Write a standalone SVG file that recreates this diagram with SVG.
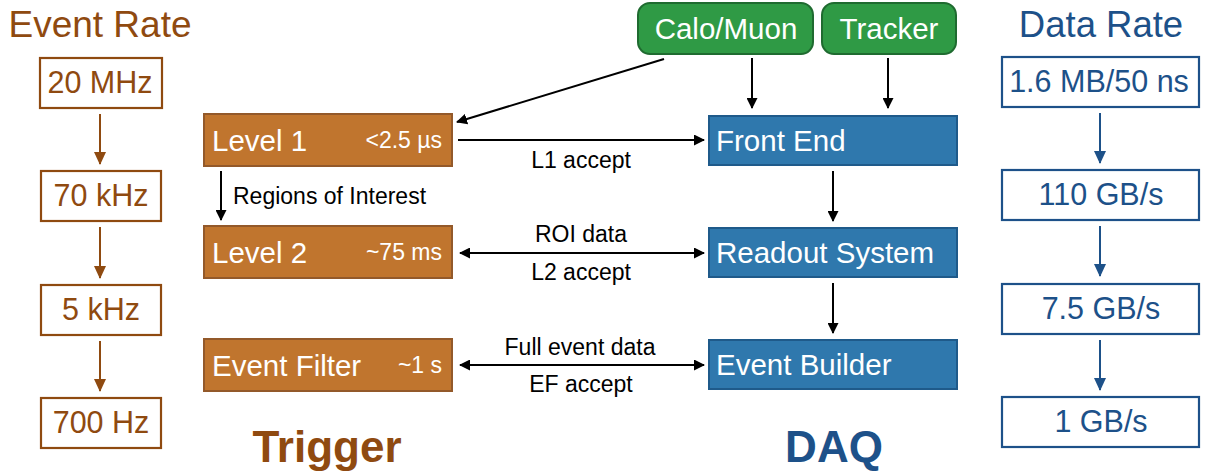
<svg xmlns="http://www.w3.org/2000/svg" width="1207" height="475" viewBox="0 0 1207 475">
  <defs>
    <style>
      text { font-family: "Liberation Sans", Arial, sans-serif; }
      .brown { fill: #8f4a10; }
      .blue { fill: #1d5189; }
      .rate-b { fill: #fff; stroke: #8f4a10; stroke-width: 2.2; }
      .rate-d { fill: #fff; stroke: #1d5189; stroke-width: 2.2; }
      .trig { fill: #c0752e; stroke: #93592a; stroke-width: 2; }
      .daq { fill: #2f78ad; stroke: #1f5a8a; stroke-width: 2; }
      .det { fill: #2f9a45; stroke: #1f6b30; stroke-width: 2; }
      .wt { fill: #fff; }
      .lbl { fill: #000; font-size: 23px; }
      .rt { font-size: 30.5px; }
      .bx { font-size: 29.5px; }
      .tm { font-size: 23px; }
      .ln { stroke: #000; stroke-width: 2; fill: none; }
      .lnb { stroke: #8f4a10; stroke-width: 2; fill: none; }
      .lnd { stroke: #1d5189; stroke-width: 2; fill: none; }
    </style>
    <marker id="ah" markerWidth="11" markerHeight="11" refX="10" refY="5.5" orient="auto-start-reverse" markerUnits="userSpaceOnUse">
      <path d="M0,0 L11,5.5 L0,11 z" fill="#000"/>
    </marker>
    <marker id="ahb" markerWidth="13" markerHeight="12" refX="12" refY="6" orient="auto" markerUnits="userSpaceOnUse">
      <path d="M0,0 L13,6 L0,12 z" fill="#8f4a10"/>
    </marker>
    <marker id="ahd" markerWidth="13" markerHeight="12" refX="12" refY="6" orient="auto" markerUnits="userSpaceOnUse">
      <path d="M0,0 L13,6 L0,12 z" fill="#1d5189"/>
    </marker>
  </defs>

  <!-- column headings -->
  <text class="brown" x="100" y="37" font-size="37" text-anchor="middle">Event Rate</text>
  <text class="blue" x="1101" y="37" font-size="36.5" text-anchor="middle">Data Rate</text>
  <text class="brown" x="327" y="462" font-size="44" font-weight="bold" text-anchor="middle">Trigger</text>
  <text class="blue" x="834" y="462" font-size="44" font-weight="bold" text-anchor="middle">DAQ</text>

  <!-- event rate column -->
  <g id="er-20mhz"><rect class="rate-b" x="40" y="58" width="122" height="50"/><text class="brown rt" x="100" y="93" text-anchor="middle">20 MHz</text></g>
  <g id="er-70khz"><rect class="rate-b" x="41" y="171" width="120" height="50"/><text class="brown rt" x="101" y="206" text-anchor="middle">70 kHz</text></g>
  <g id="er-5khz"><rect class="rate-b" x="41" y="285" width="120" height="50"/><text class="brown rt" x="101" y="320" text-anchor="middle">5 kHz</text></g>
  <g id="er-700hz"><rect class="rate-b" x="41" y="398" width="120" height="50"/><text class="brown rt" x="101" y="433" text-anchor="middle">700 Hz</text></g>

  <!-- data rate column -->
  <g id="dr-1"><rect class="rate-d" x="1002" y="57" width="197" height="50"/><text class="blue rt" x="1099" y="92" text-anchor="middle">1.6 MB/50 ns</text></g>
  <g id="dr-2"><rect class="rate-d" x="1002" y="170" width="197" height="50"/><text class="blue rt" x="1101" y="205" text-anchor="middle">110 GB/s</text></g>
  <g id="dr-3"><rect class="rate-d" x="1002" y="284" width="197" height="50"/><text class="blue rt" x="1101" y="319" text-anchor="middle">7.5 GB/s</text></g>
  <g id="dr-4"><rect class="rate-d" x="1002" y="397" width="197" height="50"/><text class="blue rt" x="1101" y="432" text-anchor="middle">1 GB/s</text></g>

  <!-- detectors -->
  <g id="calo-muon"><rect class="det" x="638" y="3" width="175" height="51" rx="12"/><text class="wt bx" x="726" y="39" text-anchor="middle">Calo/Muon</text></g>
  <g id="tracker"><rect class="det" x="822" y="3" width="134" height="51" rx="12"/><text class="wt bx" x="889" y="39" text-anchor="middle">Tracker</text></g>

  <!-- trigger chain -->
  <g id="level1"><rect class="trig" x="204" y="114" width="248" height="52"/><text class="wt bx" x="212" y="151">Level 1</text><text class="wt tm" x="442" y="148" text-anchor="end">&lt;2.5 µs</text></g>
  <g id="level2"><rect class="trig" x="204" y="226" width="248" height="52"/><text class="wt bx" x="212" y="263">Level 2</text><text class="wt tm" x="442" y="260" text-anchor="end">~75 ms</text></g>
  <g id="event-filter"><rect class="trig" x="204" y="339" width="248" height="52"/><text class="wt bx" x="212" y="376">Event Filter</text><text class="wt tm" x="442" y="373" text-anchor="end">~1 s</text></g>

  <!-- DAQ chain -->
  <g id="front-end"><rect class="daq" x="709" y="116" width="248" height="49"/><text class="wt bx" x="716" y="151">Front End</text></g>
  <g id="readout"><rect class="daq" x="709" y="228" width="248" height="49"/><text class="wt bx" x="716" y="263">Readout System</text></g>
  <g id="event-builder"><rect class="daq" x="709" y="340" width="248" height="49"/><text class="wt bx" x="716" y="375">Event Builder</text></g>

  <!-- connectors -->
  <g id="connectors">
    <line class="lnb" x1="100" y1="114" x2="100" y2="164" marker-end="url(#ahb)"/>
    <line class="lnb" x1="100" y1="227" x2="100" y2="278" marker-end="url(#ahb)"/>
    <line class="lnb" x1="100" y1="341" x2="100" y2="391" marker-end="url(#ahb)"/>

    <line class="lnd" x1="1100" y1="113" x2="1100" y2="163" marker-end="url(#ahd)"/>
    <line class="lnd" x1="1100" y1="226" x2="1100" y2="276" marker-end="url(#ahd)"/>
    <line class="lnd" x1="1100" y1="340" x2="1100" y2="390" marker-end="url(#ahd)"/>

    <line class="ln" x1="664" y1="59" x2="457" y2="122" marker-end="url(#ah)"/>
    <line class="ln" x1="752" y1="58" x2="752" y2="108" marker-end="url(#ah)"/>
    <line class="ln" x1="888" y1="58" x2="888" y2="108" marker-end="url(#ah)"/>

    <line class="ln" x1="458" y1="140" x2="704" y2="140" marker-end="url(#ah)"/>
    <text class="lbl" x="581" y="168" text-anchor="middle">L1 accept</text>

    <line class="ln" x1="221" y1="171" x2="221" y2="220" marker-end="url(#ah)"/>
    <text class="lbl" x="233" y="204">Regions of Interest</text>

    <line class="ln" x1="460" y1="253" x2="704" y2="253" marker-start="url(#ah)" marker-end="url(#ah)"/>
    <text class="lbl" x="581" y="242" text-anchor="middle">ROI data</text>
    <text class="lbl" x="581" y="280" text-anchor="middle">L2 accept</text>

    <line class="ln" x1="460" y1="365" x2="704" y2="365" marker-start="url(#ah)" marker-end="url(#ah)"/>
    <text class="lbl" x="580" y="355" text-anchor="middle">Full event data</text>
    <text class="lbl" x="581" y="392" text-anchor="middle">EF accept</text>

    <line class="ln" x1="833" y1="171" x2="833" y2="221" marker-end="url(#ah)"/>
    <line class="ln" x1="833" y1="283" x2="833" y2="333" marker-end="url(#ah)"/>
  </g>
</svg>
